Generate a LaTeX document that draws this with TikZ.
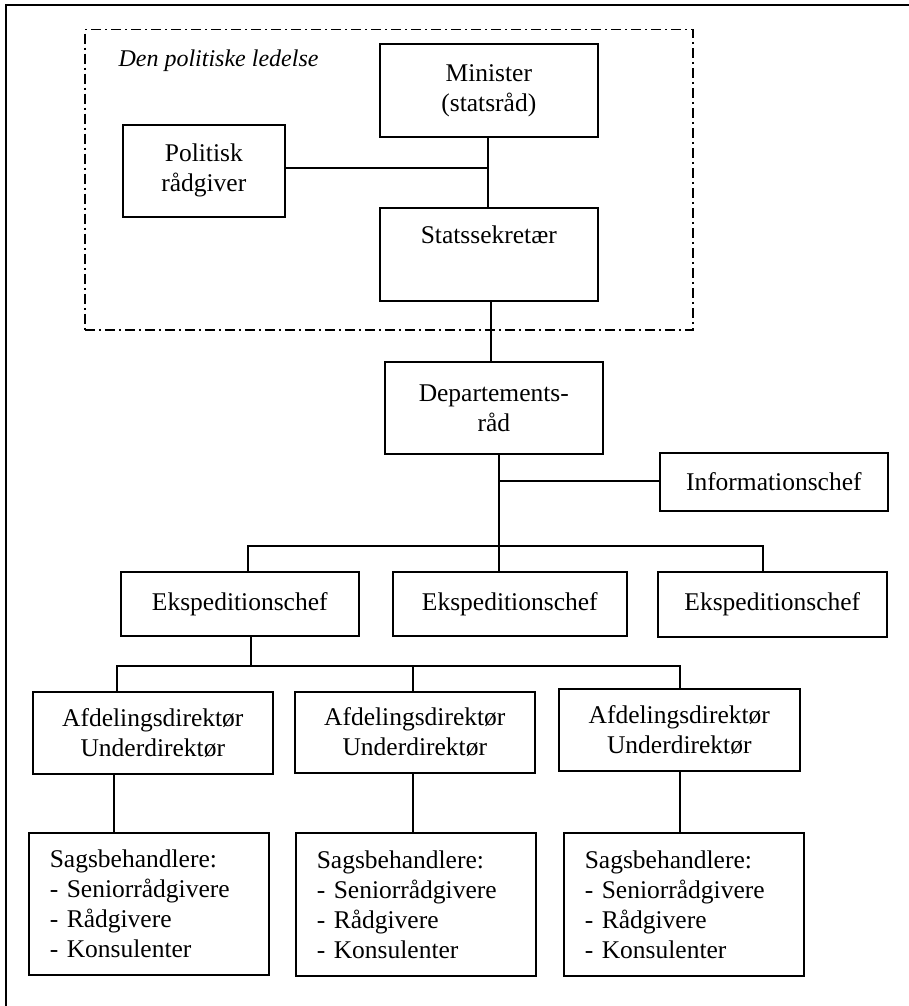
\documentclass[tikz,border=0pt]{standalone}
\usepackage{fontspec}
\setmainfont{Liberation Serif}
\begin{document}
\begin{tikzpicture}[x=1pt,y=-1pt,
  every node/.style={font=\fontsize{25.5}{30}\selectfont},
  box/.style={draw, line width=1.6pt, inner sep=0pt, align=center, anchor=north west},
  listbox/.style={draw, line width=1.6pt, inner ysep=0pt, inner xsep=21pt,
    text width=198pt, align=left, anchor=north west},
  link/.style={line width=1.4pt},
  group/.style={draw, line width=1.5pt, dash pattern=on 10pt off 4pt on 2pt off 4pt,
    inner sep=0pt, anchor=north west}]
\useasboundingbox (0,0) rectangle (909,1006);

% page rule (top and left only)
\draw[line width=1.8pt] (909,5) -- (6,5) -- (6,1006);

% political leadership group
\node[group, minimum width=608pt, minimum height=300pt] (pol) at (84,29) {};
\node[anchor=base west, font=\fontsize{24}{28}\selectfont\itshape] (poltitle) at (115,67) {Den politiske ledelse};

\node[box, minimum width=218pt, minimum height=93pt] (min) at (379,43) {Minister\\(statsråd)};
\node[box, minimum width=162pt, minimum height=92pt] (pr) at (122,124) {Politisk\\rådgiver};
\node[box, minimum width=218pt, minimum height=93pt] (sek) at (379,207) {Statssekretær\\\strut};

% administration
\node[box, minimum width=218pt, minimum height=92pt] (dep) at (384,361) {Departements-\\råd};
\node[box, minimum width=228pt, minimum height=58pt] (info) at (659,452) {Informationschef};

\node[box, minimum width=238pt, minimum height=64pt] (e1) at (120,571) {Ekspeditionschef};
\node[box, minimum width=234pt, minimum height=64pt] (e2) at (392,571) {Ekspeditionschef};
\node[box, minimum width=229pt, minimum height=65pt] (e3) at (657,571) {Ekspeditionschef};

\node[box, minimum width=240pt, minimum height=82pt] (a1) at (32,691) {Afdelingsdirektør\\Underdirektør};
\node[box, minimum width=240pt, minimum height=81pt] (a2) at (294,691) {Afdelingsdirektør\\Underdirektør};
\node[box, minimum width=241pt, minimum height=82pt] (a3) at (558,688) {Afdelingsdirektør\\Underdirektør};

\node[listbox, minimum height=142pt] (s1) at (28,832) {Sagsbehandlere:\\- Seniorrådgivere\\- Rådgivere\\- Konsulenter};
\node[listbox, minimum height=143pt] (s2) at (295,832) {Sagsbehandlere:\\- Seniorrådgivere\\- Rådgivere\\- Konsulenter};
\node[listbox, minimum height=143pt] (s3) at (563,832) {Sagsbehandlere:\\- Seniorrådgivere\\- Rådgivere\\- Konsulenter};

% junction points
\coordinate (jp) at (488,168);
\coordinate (jd) at (491,300);
\coordinate (ji) at (499,481);
\coordinate (bl) at (248,546);
\coordinate (bm) at (499,546);
\coordinate (br) at (763,546);
\coordinate (ej) at (251,666);
\coordinate (cl) at (117,666);
\coordinate (cm) at (413,666);
\coordinate (cr) at (680,666);

% connectors
\draw[link] (min.south -| jp) -- (sek.north -| jp);
\draw[link] (pr.east |- jp) -- (jp);
\draw[link] (sek.south -| jd) -- (dep.north -| jd);
\draw[link] (dep.south -| ji) -- (e2.north -| ji);
\draw[link] (ji) -- (info.west |- ji);
\draw[link] (e1.north -| bl) -- (bl) -- (br) -- (e3.north -| br);
\draw[link] (e1.south -| ej) -- (ej);
\draw[link] (a1.north -| cl) -- (cl) -- (cr) -- (a3.north -| cr);
\draw[link] (cm) -- (a2.north -| cm);
\draw[link] (a1.south -| 114,0) -- (s1.north -| 114,0);
\draw[link] (a2.south -| cm) -- (s2.north -| cm);
\draw[link] (a3.south -| cr) -- (s3.north -| cr);
\end{tikzpicture}
\end{document}
